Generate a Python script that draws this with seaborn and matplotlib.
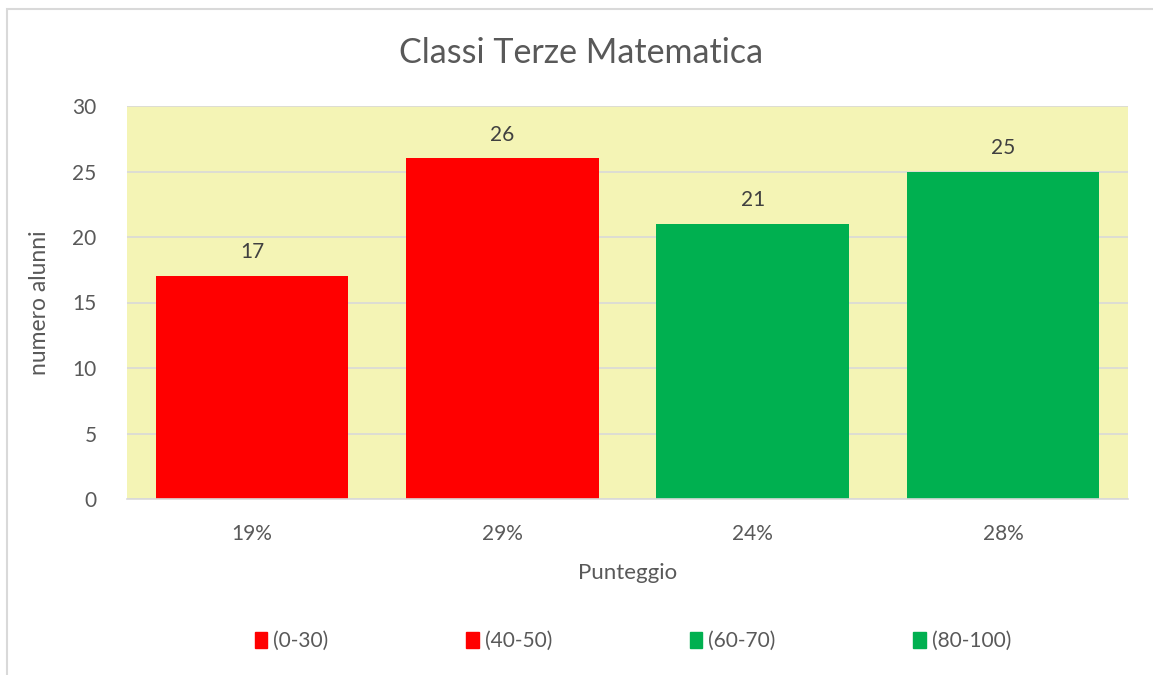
import matplotlib
matplotlib.use("Agg")
import matplotlib.pyplot as plt
import seaborn as sns
import pandas as pd
from matplotlib.patches import Rectangle, Patch

ranges = ["(0-30)", "(40-50)", "(60-70)", "(80-100)"]
percent_labels = ["19%", "29%", "24%", "28%"]
counts = [17, 26, 21, 25]
bar_colors = ["#FF0000", "#FF0000", "#00B050", "#00B050"]

sns.set_theme(style="white")
plt.rcParams['font.family'] = ['Lato', 'DejaVu Sans']

text_gray = "#595959"

df = pd.DataFrame({"Punteggio": percent_labels, "alunni": counts, "range": ranges})

fig = plt.figure(figsize=(11.53, 6.75), dpi=100)
ax = fig.add_axes([127/1153, 1-499/675, (1128-127)/1153, (499-106)/675])

sns.barplot(data=df, x="Punteggio", y="alunni", hue="range", palette=bar_colors,
            dodge=False, width=0.77, ax=ax, legend=False, saturation=1, linewidth=0)

ax.set_facecolor("#F4F4B5")
ax.set_ylim(0, 30)
ax.set_yticks(range(0, 31, 5))
ax.yaxis.grid(True, color="#D9D9D9", linewidth=1.2)
ax.set_axisbelow(True)
for s in ["top", "right", "left"]:
    ax.spines[s].set_visible(False)
ax.spines["bottom"].set_color("#D9D9D9")
ax.spines["bottom"].set_linewidth(1.2)
ax.tick_params(axis="both", length=0, labelsize=15, colors=text_gray)
ax.tick_params(axis="y", pad=22)
ax.tick_params(axis="x", pad=18)

ax.set_xlabel("Punteggio", fontsize=16, color=text_gray, labelpad=14)
ax.set_ylabel("numero alunni", fontsize=16.5, color=text_gray, labelpad=16)

for c in ax.containers:
    ax.bar_label(c, padding=10, fontsize=15, color="#404040")

fig.text(0.504, 1-53/675, "Classi Terze Matematica", ha="center", va="center",
         fontsize=24.5, color=text_gray)

handles = [Patch(facecolor=col, edgecolor=col) for col in bar_colors]
fig.legend(handles, ranges, loc="center", bbox_to_anchor=(0.549, 1-641/675),
           ncol=4, frameon=False, fontsize=15, handlelength=0.6, handleheight=0.8,
           handletextpad=0.3, columnspacing=6.6, labelcolor=text_gray)

fig.patches.append(Rectangle((7/1153, -0.1), 1.2, (1-9/675)+0.1, transform=fig.transFigure,
                             fill=False, edgecolor="#D9D9D9", linewidth=1.5))

fig.savefig("out.png", dpi=100)
